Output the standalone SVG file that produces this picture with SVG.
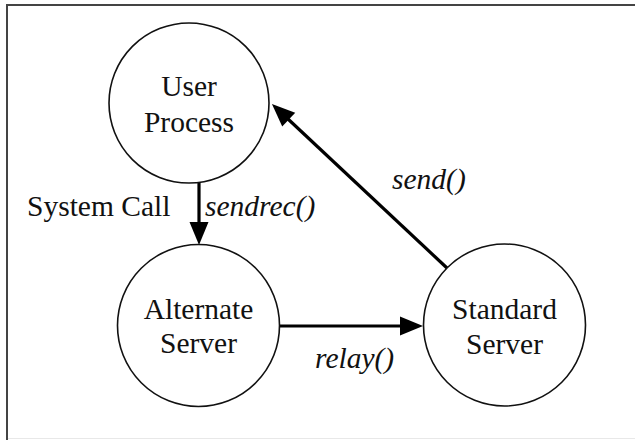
<svg xmlns="http://www.w3.org/2000/svg" width="635" height="440" viewBox="0 0 635 440">
<style>
.node circle{fill:#fff;stroke:#111;stroke-width:1.6}
.lbl{font-family:"Liberation Serif","Times New Roman",serif;font-size:29.5px;fill:#111}
.node text{text-anchor:middle}
.it{font-style:italic}
.conn line{stroke:#000;stroke-width:3.2;fill:none}
</style>
<defs>
<marker id="ah" markerUnits="userSpaceOnUse" markerWidth="23" markerHeight="20" refX="0" refY="9.5" orient="auto" overflow="visible">
<path d="M-1,0 L22,9.5 L-1,19 Z" fill="#000"/>
</marker>
</defs>
<rect x="0" y="0" width="635" height="440" fill="#fff"/>
<rect x="7" y="5" width="650" height="460" fill="none" stroke="#444" stroke-width="2"/>
<line x1="8" y1="438.5" x2="635" y2="438.5" stroke="#e8e8e8" stroke-width="1"/>
<g id="connectors" class="conn">
<line x1="199" y1="182" x2="199" y2="223" marker-end="url(#ah)"/>
<line x1="280" y1="326" x2="401" y2="326" marker-end="url(#ah)"/>
<line x1="447" y1="268" x2="288" y2="119" marker-end="url(#ah)"/>
</g>
<g id="user-process" class="node">
<circle cx="189" cy="103" r="80"/>
<text class="lbl" x="189" y="96">User</text>
<text class="lbl" x="189" y="132">Process</text>
</g>
<g id="alternate-server" class="node">
<circle cx="198.5" cy="325.5" r="81"/>
<text class="lbl" x="198.5" y="319">Alternate</text>
<text class="lbl" x="198.5" y="353">Server</text>
</g>
<g id="standard-server" class="node">
<circle cx="504.5" cy="325" r="81"/>
<text class="lbl" x="504.5" y="319">Standard</text>
<text class="lbl" x="504.5" y="354">Server</text>
</g>
<g id="labels">
<text class="lbl" x="27" y="216">System Call</text>
<text class="lbl it" x="205" y="216">sendrec()</text>
<text class="lbl it" x="392" y="189">send()</text>
<text class="lbl it" x="315" y="368">relay()</text>
</g>
</svg>
